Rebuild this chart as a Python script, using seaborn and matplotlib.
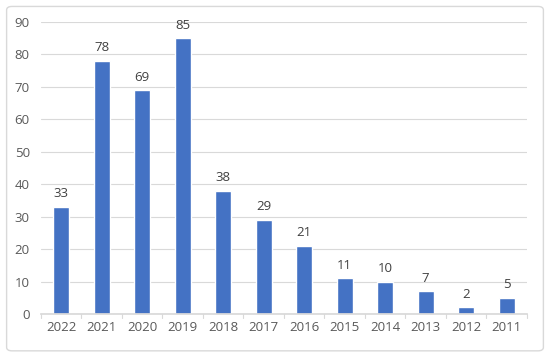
import pandas as pd
import seaborn as sns
import matplotlib.pyplot as plt
from matplotlib.patches import FancyBboxPatch

years = ['2022', '2021', '2020', '2019', '2018', '2017', '2016',
         '2015', '2014', '2013', '2012', '2011']
counts = [33, 78, 69, 85, 38, 29, 21, 11, 10, 7, 2, 5]

df = pd.DataFrame({'year': years, 'count': counts})

sns.set_theme(style='white')
plt.rcParams['font.family'] = ['Open Sans', 'DejaVu Sans']

fig = plt.figure(figsize=(5.5, 3.58), dpi=100)
ax = fig.add_axes([0.0745, 0.123, 0.8835, 0.8155])

sns.barplot(data=df, x='year', y='count', color='#4472C4', width=0.4,
            saturation=1, ax=ax)

for i, v in enumerate(counts):
    ax.text(i, v + 2, str(v), ha='center', va='bottom', fontsize=9.5, color='#404040')

ax.set_ylim(0, 90)
ax.set_yticks(range(0, 91, 10))
ax.set_xlim(-0.5, len(years) - 0.5)
ax.yaxis.grid(True, color='#D9D9D9', linewidth=0.8)
ax.set_axisbelow(True)
for s in ['top', 'right', 'left']:
    ax.spines[s].set_visible(False)
ax.spines['bottom'].set_color('#D9D9D9')
ax.tick_params(axis='both', labelsize=9.5, labelcolor='#595959', length=0)
ax.tick_params(axis='y', pad=8)
ax.tick_params(axis='x', pad=5)
ax.set_xlabel('')
ax.set_ylabel('')

# small tick marks between categories
for i in range(len(years) + 1):
    ax.plot([i - 0.5, i - 0.5], [0, -1.3], color='#D9D9D9', lw=0.8, clip_on=False)

border = FancyBboxPatch((0.012, 0.02), 0.976, 0.962, boxstyle='round,pad=0,rounding_size=0.01',
                        transform=fig.transFigure, fill=False, edgecolor='#D9D9D9', lw=1)
fig.patches.append(border)

fig.savefig('out.png', dpi=100)
